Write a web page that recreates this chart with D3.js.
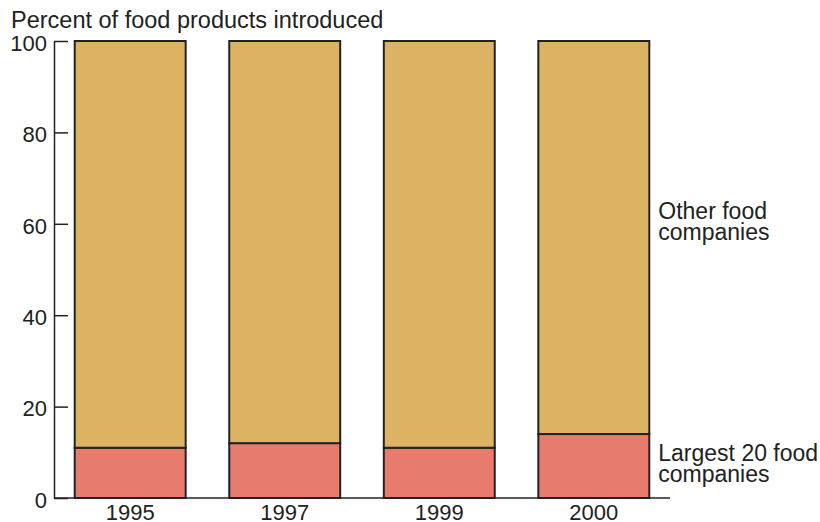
<!DOCTYPE html>
<html>
<head>
<meta charset="utf-8">
<script src="https://cdn.jsdelivr.net/npm/d3@7"></script>
<style>
  body { margin: 0; background: #fff; }
  text { font-family: "Liberation Sans", Arial, sans-serif; fill: #222; }
</style>
</head>
<body>
<div id="chart"></div>
<script>
// data
var years = ["1995", "1997", "1999", "2000"];
var largest20 = [11, 12, 11, 14];
var others = [89, 88, 89, 86];
var yTicks = [0, 20, 40, 60, 80, 100];

var width = 820, height = 522;
var svg = d3.select("#chart").append("svg")
    .attr("width", width)
    .attr("height", height);

var x = d3.scaleBand()
    .domain(years)
    .range([54, 670])
    .paddingInner(0.282)
    .paddingOuter(0.134);

var y = d3.scaleLinear()
    .domain([0, 100])
    .range([498, 41]);

var rows = years.map(function(yr, i){
    return { year: yr, low: largest20[i], high: others[i] };
});

// lower part - largest 20 companies
svg.selectAll(".low")
    .data(rows)
    .enter()
    .append("rect")
    .attr("class", "low")
    .attr("x", function(d){ return x(d.year); })
    .attr("y", function(d){ return y(d.low); })
    .attr("width", x.bandwidth())
    .attr("height", function(d){ return y(0) - y(d.low); })
    .attr("fill", "#e77b6d")
    .attr("stroke", "#222")
    .attr("stroke-width", 2);

// upper part - other companies
svg.selectAll(".high")
    .data(rows)
    .enter()
    .append("rect")
    .attr("class", "high")
    .attr("x", function(d){ return x(d.year); })
    .attr("y", function(d){ return y(d.low + d.high); })
    .attr("width", x.bandwidth())
    .attr("height", function(d){ return y(d.low) - y(d.low + d.high); })
    .attr("fill", "#dcb263")
    .attr("stroke", "#222")
    .attr("stroke-width", 2);

// y axis, ticks pointing inward
var yAxis = svg.append("g")
    .attr("transform", "translate(54,0)")
    .call(d3.axisLeft(y).tickValues(yTicks).tickSizeInner(-14).tickSizeOuter(0).tickPadding(7));
yAxis.selectAll("path, line").attr("stroke", "#222").attr("stroke-width", 1.5);
yAxis.selectAll("text")
    .attr("dy", "0.42em")
    .attr("fill", "#222")
    .style("font-size", "22px")
    .style("font-family", "Liberation Sans, Arial, sans-serif");

// baseline
svg.append("line")
    .attr("x1", 54).attr("x2", 670)
    .attr("y1", y(0)).attr("y2", y(0))
    .attr("stroke", "#222").attr("stroke-width", 1.5);

// x labels
svg.selectAll(".xlab")
    .data(years)
    .enter()
    .append("text")
    .attr("class", "xlab")
    .attr("x", function(d){ return x(d) + x.bandwidth() / 2; })
    .attr("y", 520)
    .attr("text-anchor", "middle")
    .style("font-size", "22px")
    .text(function(d){ return d; });

// title
svg.append("text")
    .attr("x", 11).attr("y", 28)
    .style("font-size", "23.5px")
    .text("Percent of food products introduced");

// series labels on right
var lastX = x(years[3]) + x.bandwidth() + 9;
svg.append("text").attr("x", lastX).attr("y", 219).style("font-size", "23px").text("Other food");
svg.append("text").attr("x", lastX).attr("y", 240).style("font-size", "23px").text("companies");
svg.append("text").attr("x", lastX).attr("y", 461).style("font-size", "23px").text("Largest 20 food");
svg.append("text").attr("x", lastX).attr("y", 482).style("font-size", "23px").text("companies");
</script>
</body>
</html>
